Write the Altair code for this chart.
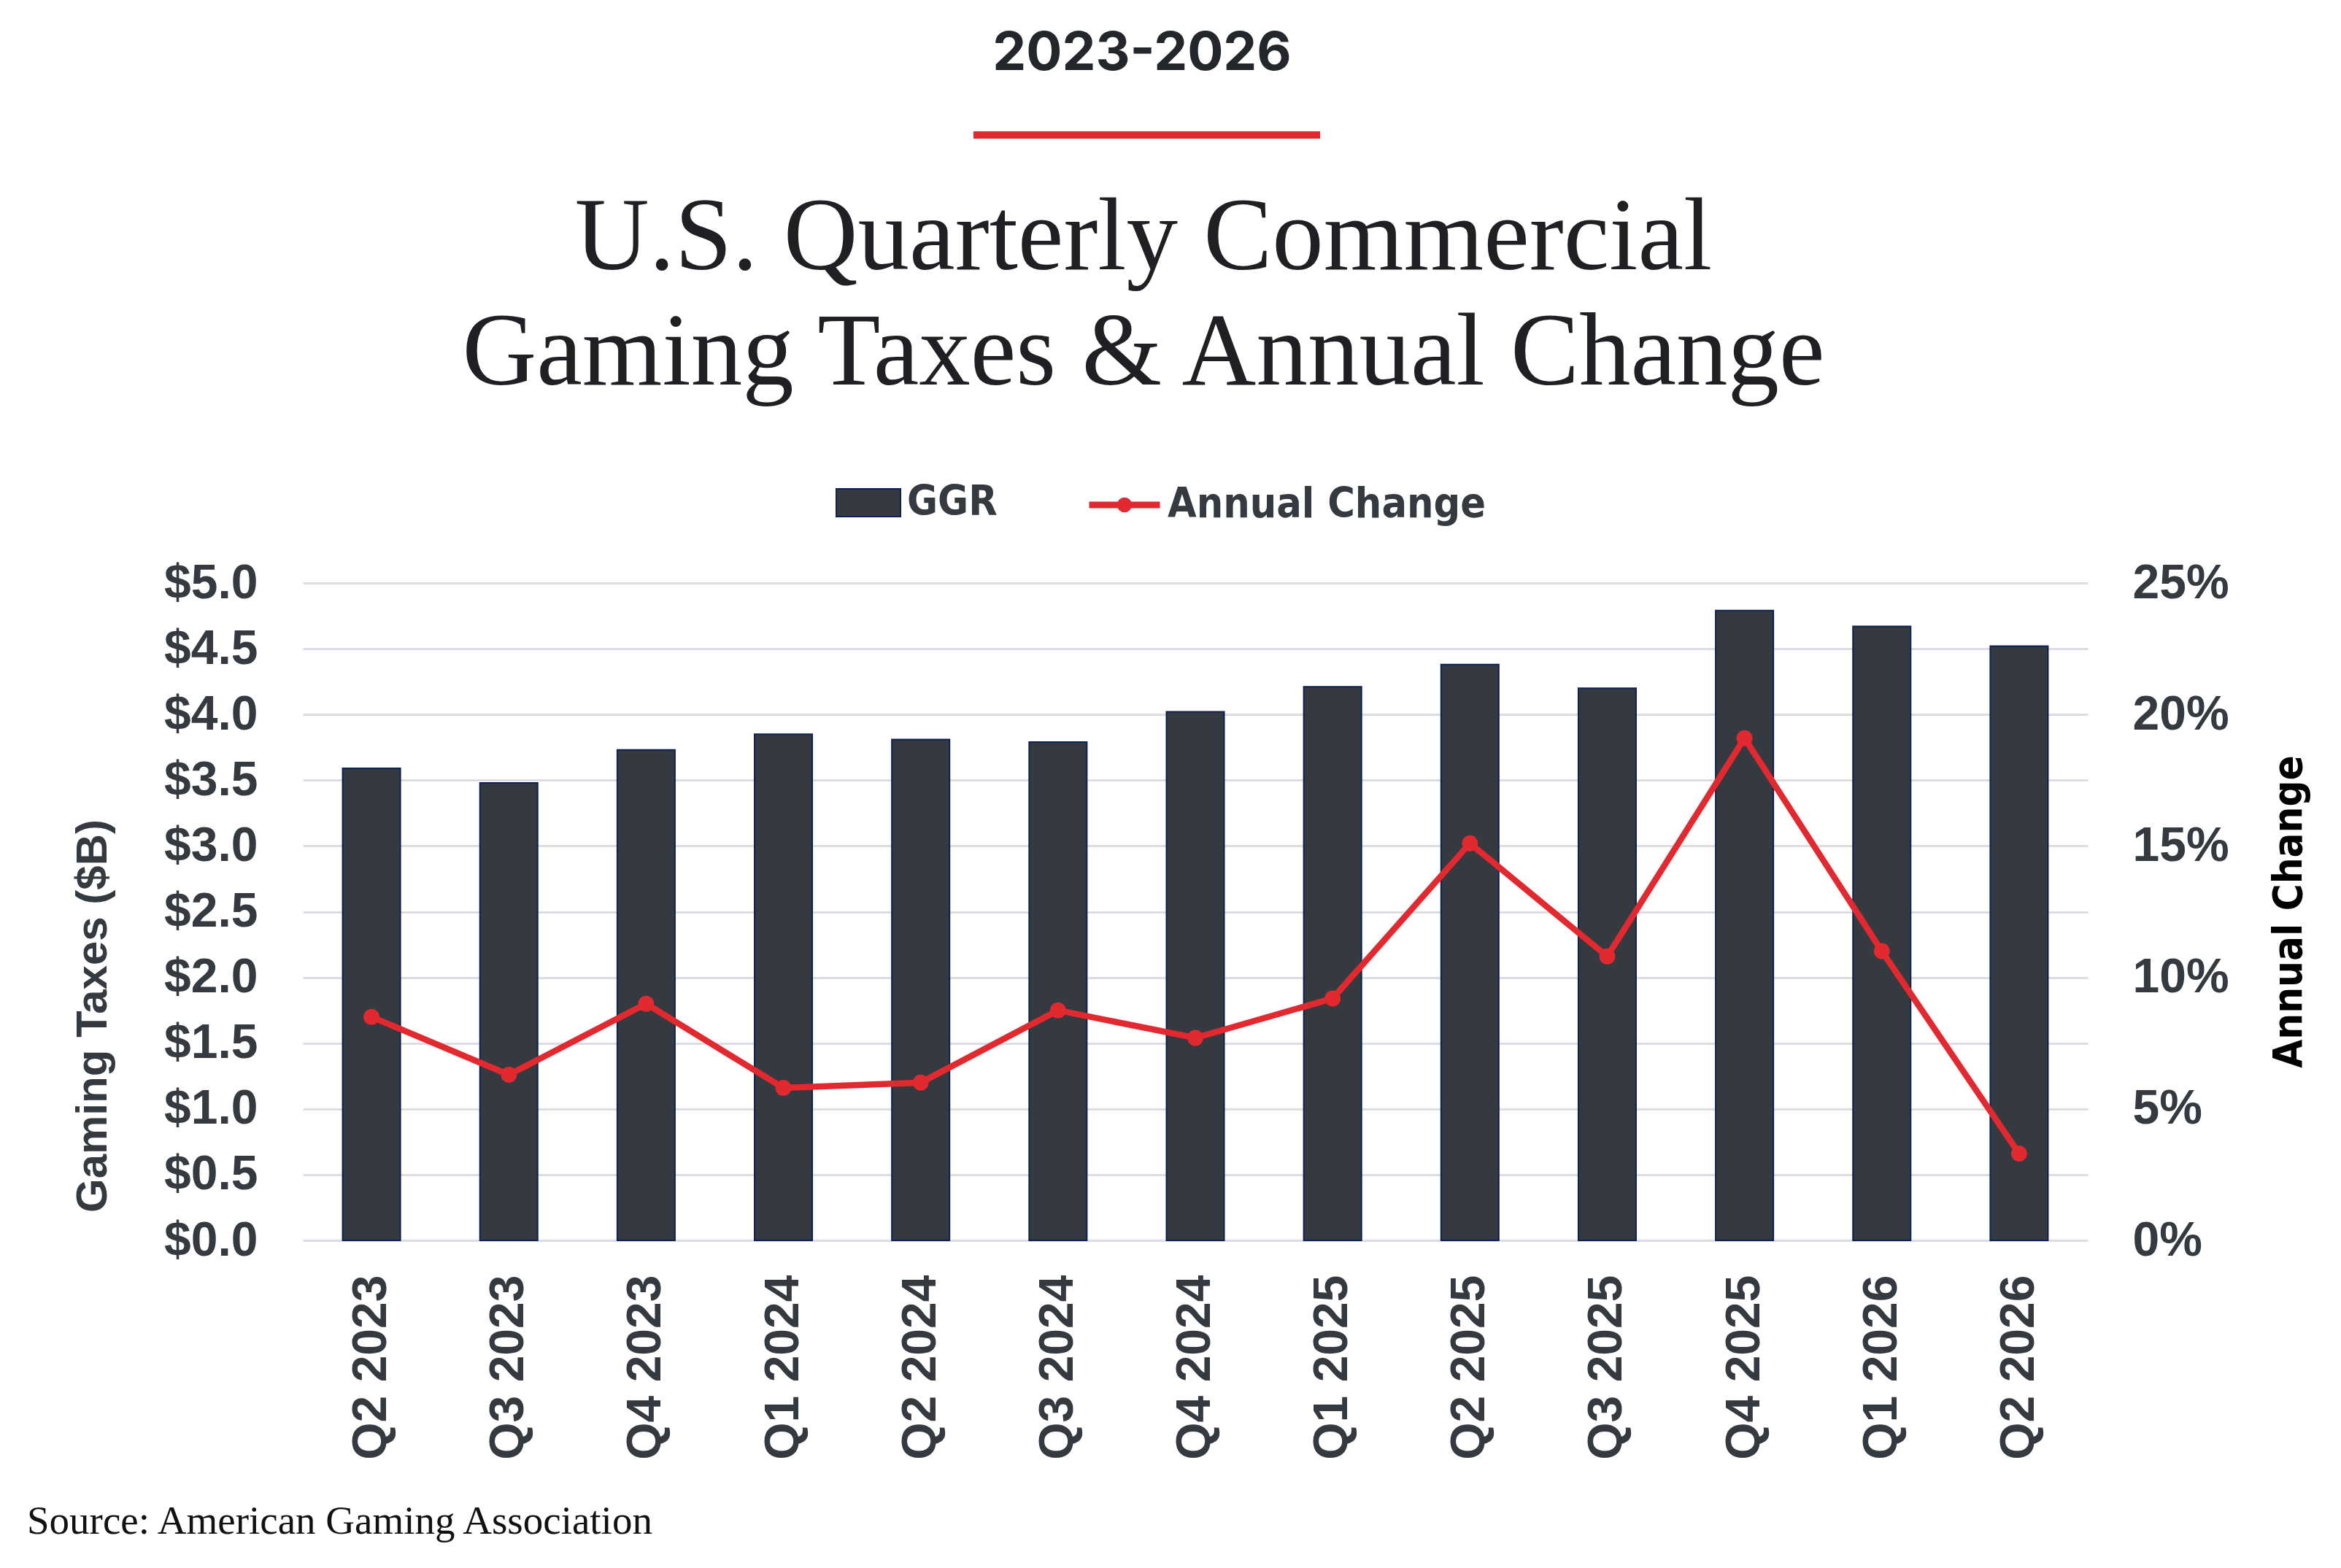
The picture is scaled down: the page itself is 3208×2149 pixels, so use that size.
import altair as alt
import pandas as pd

quarters = ["Q2 2023", "Q3 2023", "Q4 2023", "Q1 2024", "Q2 2024", "Q3 2024", "Q4 2024",
            "Q1 2025", "Q2 2025", "Q3 2025", "Q4 2025", "Q1 2026", "Q2 2026"]
taxes = [3.59, 3.48, 3.73, 3.85, 3.81, 3.79, 4.02, 4.21, 4.38, 4.20, 4.79, 4.67, 4.52]
change = [0.085, 0.063, 0.090, 0.058, 0.060, 0.0875, 0.077, 0.092, 0.151, 0.108, 0.191, 0.110, 0.033]
y_left_ticks = [0, 0.5, 1, 1.5, 2, 2.5, 3, 3.5, 4, 4.5, 5]
y_right_ticks = [0, 0.05, 0.10, 0.15, 0.20, 0.25]

header = "2023-2026"
title_lines = ["U.S. Quarterly Commercial", "Gaming Taxes & Annual Change"]
source = "Source: American Gaming Association"

df = pd.DataFrame({"quarter": quarters, "taxes": taxes, "change": change,
                   "ggr": ["GGR"] * len(quarters), "ac": ["Annual Change"] * len(quarters)})
one = pd.DataFrame({"k": [0]})

DARK = "#343a40"
NAVY = "#0d2152"
RED = "#e1292f"
SANS = "Liberation Sans"
NARROW = "Liberation Sans Narrow, DejaVu Sans Condensed, Roboto Condensed, Liberation Sans"
SERIF = "Liberation Serif"

X = alt.X("quarter:N", sort=quarters, title=None,
          scale=alt.Scale(paddingInner=0.58, paddingOuter=0.29),
          axis=alt.Axis(labelAngle=-90, labelFont=SANS, labelFontWeight="bold", labelFontSize=66,
                        labelColor=DARK, labelPadding=47, grid=False, domain=False, ticks=False,
                        labelLimit=0))

Y_R = alt.Y("change:Q", scale=alt.Scale(domain=[0, 0.25], nice=False),
            axis=alt.Axis(orient="right", values=y_right_ticks, format=".0%", title="Annual Change",
                          labelFont=SANS, labelFontWeight="bold", labelFontSize=66, labelColor=DARK,
                          labelPadding=61, labelAlign="left", grid=False, domain=False, ticks=False,
                          titleFont=NARROW, titleFontWeight="bold", titleFontSize=56, titleColor="#000000",
                          titleAngle=270, titleX=292, titleY=450, titleAlign="center",
                          titleBaseline="alphabetic"))

bars = alt.Chart(df).mark_bar(stroke=NAVY, strokeWidth=2).encode(
    x=X,
    y=alt.Y("taxes:Q", scale=alt.Scale(domain=[0, 5], nice=False),
            axis=alt.Axis(values=y_left_ticks, format="$.1f", title="Gaming Taxes ($B)",
                          labelFont=SANS, labelFontWeight="bold", labelFontSize=66, labelColor=DARK,
                          labelPadding=62, grid=True, gridColor="#dcdde2", gridWidth=3,
                          domain=False, ticks=False,
                          titleFont=SANS, titleFontWeight="bold", titleFontSize=60, titleColor=DARK,
                          titleAngle=270, titleX=-270, titleY=593, titleAlign="center",
                          titleBaseline="alphabetic")),
    fill=alt.Fill("ggr:N", scale=alt.Scale(domain=["GGR"], range=[DARK]),
                  legend=alt.Legend(title=None, orient="none", legendX=730, legendY=-155,
                                    symbolType="M-1,-0.43H1V0.43H-1Z", symbolSize=7744,
                                    symbolStrokeColor=NAVY, symbolStrokeWidth=2,
                                    labelFont=NARROW, labelFontWeight="bold", labelFontSize=57,
                                    labelColor=DARK, labelOffset=8, labelLimit=0, padding=0)),
)

line = alt.Chart(df).mark_line(strokeWidth=8.5).encode(
    x=X,
    y=Y_R,
    stroke=alt.Stroke("ac:N", scale=alt.Scale(domain=["Annual Change"], range=[RED]),
                      legend=alt.Legend(title=None, orient="none", legendX=1073, legendY=-160,
                                        symbolType="M-1,0H1M-0.12,0A0.12,0.12,0,1,0,0.12,0A0.12,0.12,0,1,0,-0.12,0M-0.05,0A0.05,0.05,0,1,0,0.05,0A0.05,0.05,0,1,0,-0.05,0",
                                        symbolSize=9409, symbolStrokeWidth=9, symbolStrokeColor=RED,
                                        symbolFillColor=RED,
                                        labelFont=NARROW, labelFontWeight="bold", labelFontSize=57,
                                        labelColor=DARK, labelOffset=6, labelLimit=0, padding=0)),
)

points = alt.Chart(df).mark_circle(size=480, color=RED, opacity=1).encode(
    x=X,
    y=Y_R,
)

head = alt.Chart(one).mark_text(text=header, font="Inter", fontWeight="bold", fontSize=73,
                                color="#23272b", align="center", baseline="alphabetic").encode(
    x=alt.value(1150), y=alt.value(-703))

redrule = alt.Chart(one).mark_rule(color=RED, strokeWidth=10).encode(
    x=alt.value(919), x2=alt.value(1394), y=alt.value(-614))

big_title = alt.Chart(one).mark_text(text=title_lines, font=SERIF, fontSize=141, lineHeight=158,
                                     color="#1f2023", align="center", baseline="alphabetic").encode(
    x=alt.value(1152), y=alt.value(-430))

src = alt.Chart(one).mark_text(text=source, font=SERIF, fontSize=55, color="#111111",
                               align="left", baseline="alphabetic").encode(
    x=alt.value(-378), y=alt.value(1303))

chart = alt.layer(
    bars, alt.layer(line, points), head, redrule, big_title, src
).resolve_scale(y="independent", fill="independent", stroke="independent").properties(
    width=2446, height=901,
    background="white",
    padding={"left": 407, "top": 791, "right": 330, "bottom": 430},
    autosize=alt.AutoSizeParams(type="none"),
).configure_view(stroke=None)

chart.save("out.html", embed_options={"renderer": "svg", "actions": False})
